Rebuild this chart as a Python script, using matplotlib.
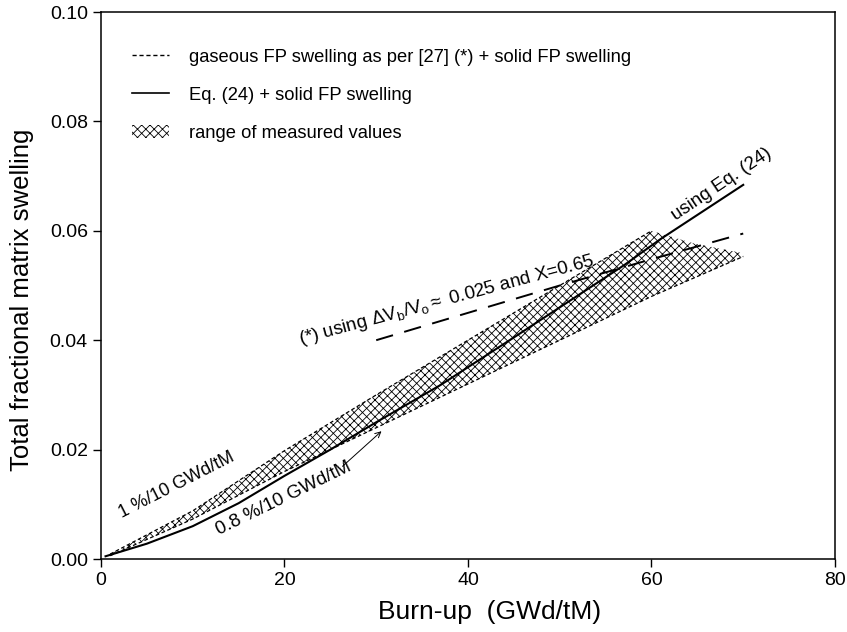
"""Total fractional matrix swelling vs burn-up: models against measured range."""

import matplotlib

matplotlib.use("Agg")
import matplotlib.pyplot as plt
from matplotlib.lines import Line2D
from matplotlib.patches import Patch

plt.rcParams["font.family"] = ["Liberation Sans", "DejaVu Sans"]
plt.rcParams["mathtext.fontset"] = "custom"
plt.rcParams["mathtext.rm"] = "Liberation Sans"
plt.rcParams["mathtext.it"] = "Liberation Sans:italic"
plt.rcParams["hatch.linewidth"] = 0.6

# Eq. (24) + solid FP swelling
eq24_burnup = [0.5, 5, 10, 15, 20, 25, 30, 37, 45, 50, 57, 61, 70]
eq24_swell = [0.0005, 0.0028, 0.0060, 0.0102, 0.0152, 0.0200, 0.025,
              0.0318, 0.0405, 0.046, 0.0537, 0.0585, 0.0684]

# gaseous FP swelling as per [27] + solid FP swelling
gas_burnup = [30, 40, 50, 60, 70]
gas_swell = [0.040, 0.045, 0.050, 0.0548, 0.0595]

# measured range: upper (1 %/10 GWd/tM) and lower (0.8 %/10 GWd/tM) bounds
upper_burnup = [1, 10, 20, 30, 40, 50, 60]
upper_swell = [0.0009, 0.0088, 0.0198, 0.030, 0.040, 0.050, 0.060]
lower_burnup = [1, 10, 20, 30, 40, 50, 60, 70]
lower_swell = [0.0006, 0.0073, 0.016, 0.024, 0.032, 0.040, 0.048, 0.0553]
# right-hand closing edge of the measured range (no dashed line)
edge_burnup = [60, 62, 64.6, 68.2, 70]
edge_swell = [0.060, 0.059, 0.0577, 0.0565, 0.0559]


def main() -> None:
    fig = plt.figure(figsize=(8.47, 6.32), dpi=100)
    ax = fig.add_axes([0.1192, 0.1155, 0.8666, 0.8655])

    poly_x = upper_burnup + edge_burnup[1:] + lower_burnup[::-1]
    poly_y = upper_swell + edge_swell[1:] + lower_swell[::-1]
    ax.fill(poly_x, poly_y, facecolor="white", edgecolor="black",
            hatch="xxxx", linewidth=0)
    ax.plot(upper_burnup, upper_swell, color="black", lw=0.9, dashes=(3, 2))
    ax.plot(lower_burnup, lower_swell, color="black", lw=0.9, dashes=(3, 2))

    ax.plot(eq24_burnup, eq24_swell, color="black", lw=1.5)
    ax.plot(gas_burnup, gas_swell, color="black", lw=1.4, dashes=(9, 6))

    ax.annotate("", xy=(30.8, 0.0237), xytext=(26.1, 0.0166),
                arrowprops=dict(arrowstyle="->", color="black", lw=0.7))

    ax.text(8.3, 0.0135, "1 %/10 GWd/tM", rotation=27, fontsize=13,
            ha="center", va="center")
    ax.text(19.9, 0.0110, "0.8 %/10 GWd/tM", rotation=26, fontsize=13.5,
            ha="center", va="center")
    ax.text(37.7, 0.0472,
            r"(*) using $\mathregular{\Delta V_b/V_o}$$\approx$ 0.025 and X=0.65",
            rotation=15, fontsize=13.5, ha="center", va="center")
    ax.text(67.6, 0.0685, "using Eq. (24)", rotation=34, fontsize=13.5,
            ha="center", va="center")

    handles = [
        Line2D([], [], color="black", lw=1.0, dashes=(3, 2)),
        Line2D([], [], color="black", lw=1.2),
        Patch(facecolor="white", edgecolor="black", hatch="xxxx", linewidth=0),
    ]
    labels = [
        "gaseous FP swelling as per [27] (*) + solid FP swelling",
        "Eq. (24) + solid FP swelling",
        "range of measured values",
    ]
    ax.legend(handles, labels, loc="upper left", bbox_to_anchor=(0.02, 0.963),
              frameon=False, fontsize=13.2, handlelength=2.0, handletextpad=1.1,
              labelspacing=1.15)

    ax.set_xlim(0, 80)
    ax.set_ylim(0, 0.10)
    ax.set_xticks([0, 20, 40, 60, 80])
    ax.set_yticks([0, 0.02, 0.04, 0.06, 0.08, 0.10])
    ax.set_yticklabels(["0.00", "0.02", "0.04", "0.06", "0.08", "0.10"])
    ax.tick_params(direction="out", length=6, width=1, labelsize=14,
                   top=False, right=False)
    for spine in ax.spines.values():
        spine.set_linewidth(1.1)
    ax.set_xlabel("Burn-up  (GWd/tM)", fontsize=19)
    ax.set_ylabel("Total fractional matrix swelling", fontsize=18.5)
    ax.xaxis.set_label_coords(0.529, -0.075)
    ax.yaxis.set_label_coords(-0.091, 0.473)

    fig.savefig("out.png", dpi=100)


if __name__ == "__main__":
    main()
